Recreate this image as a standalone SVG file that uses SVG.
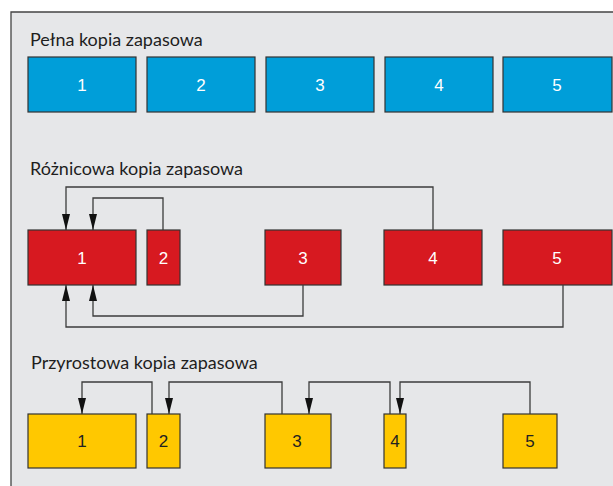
<svg xmlns="http://www.w3.org/2000/svg" width="613" height="486" viewBox="0 0 613 486">
  <style>
    .title { font-family: "Lato", "Liberation Sans", sans-serif; font-size: 18px; fill: #1e1e1e; }
    .num { font-family: "Liberation Sans Narrow", "Liberation Sans", sans-serif; font-size: 17px; text-anchor: middle; }
    .box { stroke: #333; stroke-width: 1.2; }
    .full rect { fill: #009ed9; }
    .diff rect { fill: #d71920; }
    .incr rect { fill: #ffc800; }
    .full text, .diff text { fill: #fff; }
    .incr text { fill: #222; }
    .link { fill: none; stroke: #3c3c3c; stroke-width: 1.3; }
  </style>
  <defs>
    <marker id="head" viewBox="-8 -4 16 8" refX="8" refY="0" markerWidth="16" markerHeight="8" markerUnits="userSpaceOnUse" orient="auto">
      <path d="M-8,-4 L8,0 L-8,4 Z" fill="#111"/>
    </marker>
  </defs>

  <!-- background panel -->
  <rect x="0" y="0" width="613" height="486" fill="#fff"/>
  <path d="M11,486 V12 H613 V486 Z" fill="#e6e7e9"/>
  <path d="M11,486 V12 H613" fill="none" stroke="#444" stroke-width="1.3"/>

  <!-- section titles -->
  <text class="title" x="30" y="46">Pełna kopia zapasowa</text>
  <text class="title" x="30" y="175">Różnicowa kopia zapasowa</text>
  <text class="title" x="31" y="369">Przyrostowa kopia zapasowa</text>

  <!-- full backup row -->
  <g id="full-1" class="full"><rect class="box" x="28" y="57" width="108" height="55"/><text class="num" x="82" y="91">1</text></g>
  <g id="full-2" class="full"><rect class="box" x="147" y="57" width="108" height="55"/><text class="num" x="201" y="91">2</text></g>
  <g id="full-3" class="full"><rect class="box" x="266" y="57" width="108" height="55"/><text class="num" x="320" y="91">3</text></g>
  <g id="full-4" class="full"><rect class="box" x="385" y="57" width="108" height="55"/><text class="num" x="439" y="91">4</text></g>
  <g id="full-5" class="full"><rect class="box" x="503" y="57" width="109" height="55"/><text class="num" x="557" y="91">5</text></g>

  <!-- differential backup row -->
  <g id="diff-1" class="diff"><rect class="box" x="28" y="230" width="108" height="55"/><text class="num" x="82" y="264">1</text></g>
  <g id="diff-2" class="diff"><rect class="box" x="147" y="230" width="33" height="55"/><text class="num" x="163.5" y="264">2</text></g>
  <g id="diff-3" class="diff"><rect class="box" x="265" y="230" width="76" height="55"/><text class="num" x="303" y="264">3</text></g>
  <g id="diff-4" class="diff"><rect class="box" x="384" y="230" width="98" height="55"/><text class="num" x="433" y="264">4</text></g>
  <g id="diff-5" class="diff"><rect class="box" x="503" y="230" width="109" height="55"/><text class="num" x="557" y="264">5</text></g>

  <!-- incremental backup row -->
  <g id="incr-1" class="incr"><rect class="box" x="28" y="414" width="108" height="54"/><text class="num" x="82" y="447">1</text></g>
  <g id="incr-2" class="incr"><rect class="box" x="147" y="414" width="33" height="54"/><text class="num" x="163.5" y="447">2</text></g>
  <g id="incr-3" class="incr"><rect class="box" x="265" y="414" width="66" height="54"/><text class="num" x="297" y="447">3</text></g>
  <g id="incr-4" class="incr"><rect class="box" x="384" y="414" width="22" height="54"/><text class="num" x="395" y="447">4</text></g>
  <g id="incr-5" class="incr"><rect class="box" x="503" y="414" width="54" height="54"/><text class="num" x="530" y="447">5</text></g>

  <!-- connectors -->
  <g id="connectors">
    <path class="link" d="M433,230 V187 H66 V230" marker-end="url(#head)"/>
    <path class="link" d="M163,230 V198 H93 V230" marker-end="url(#head)"/>
    <path class="link" d="M303,285 V316 H93 V285" marker-end="url(#head)"/>
    <path class="link" d="M563,285 V327 H66 V285" marker-end="url(#head)"/>

    <path class="link" d="M152,414 V382 H82 V414" marker-end="url(#head)"/>
    <path class="link" d="M282,414 V382 H169 V414" marker-end="url(#head)"/>
    <path class="link" d="M390,414 V382 H309 V414" marker-end="url(#head)"/>
    <path class="link" d="M530,414 V382 H400 V414" marker-end="url(#head)"/>
  </g>
</svg>
